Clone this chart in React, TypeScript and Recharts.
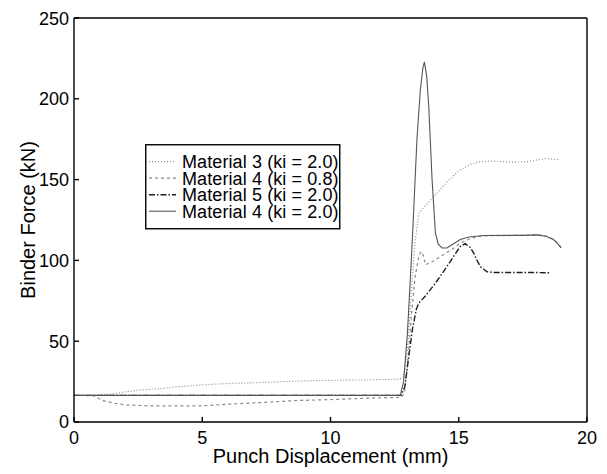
import React from 'react';
import { LineChart, Line, XAxis, YAxis, Legend } from 'recharts';

const xTicks = [0, 5, 10, 15, 20];
const yTicks = [0, 50, 100, 150, 200, 250];

const seriesNames = [
  'Material 3 (ki = 2.0)',
  'Material 4 (ki = 0.8)',
  'Material 5 (ki = 2.0)',
  'Material 4 (ki = 2.0)',
];

const mat3k20 = [
  [0, 16.5], [0.8, 16.5], [1.5, 17.3], [2.05, 18.8], [2.6, 19.8], [3.35, 20.6], [4, 21.8], [5, 23],
  [6, 23.8], [7.25, 24.4], [8, 24.9], [9, 25.4], [10, 25.8], [11.1, 26], [12.7, 26.5], [12.85, 28],
  [13.0, 45], [13.15, 80], [13.3, 112], [13.45, 129.5], [13.8, 135.5], [14.2, 142.5], [14.6, 149.5],
  [15.0, 155.5], [15.45, 159.4], [15.8, 161], [16.36, 161.5], [17, 160.8], [17.66, 161], [18, 162],
  [18.4, 163], [18.95, 162.3],
];

const mat4k08 = [
  [0, 16.5], [0.75, 16.3], [1.13, 13.2], [1.6, 11.5], [2.05, 10.5], [3, 10], [4, 10], [5, 10],
  [5.98, 11], [7.25, 12], [8.55, 13.2], [10.25, 14], [11.95, 15], [12.75, 15.2], [12.88, 18],
  [13.0, 35], [13.15, 65], [13.3, 90], [13.45, 103], [13.53, 105.5], [13.62, 103], [13.7, 97.3],
  [14.0, 99.5], [14.4, 103.5], [14.8, 107.5], [15.06, 110.7], [15.45, 113.5], [15.9, 115.2],
  [16.5, 115.3], [17.5, 115.5], [18.1, 115.8], [18.4, 115], [18.7, 113], [18.9, 110], [19, 107.7],
];

const mat5k20 = [
  [0, 16.5], [12.75, 16.5], [12.9, 22], [13.05, 40.5], [13.2, 58], [13.35, 70], [13.44, 73.5],
  [13.7, 78], [14.09, 85.9], [14.54, 96.2], [14.8, 102.5], [15.06, 108.6], [15.25, 110.4],
  [15.45, 108], [15.6, 104], [15.7, 100.4], [15.85, 96], [16.1, 93], [16.4, 92.5], [17, 92.5],
  [18, 92.5], [18.56, 92.3],
];

const mat4k20 = [
  [0, 16.5], [12.72, 16.5], [12.85, 25], [13.0, 55], [13.15, 100], [13.24, 129.5], [13.37, 175],
  [13.5, 205], [13.6, 219], [13.66, 222.9], [13.75, 214], [13.83, 195.6], [13.96, 150],
  [14.09, 117], [14.2, 110], [14.35, 107.7], [14.54, 107.7], [14.75, 109.8], [15.06, 112.9],
  [15.4, 114.5], [15.97, 115.4], [16.8, 115.5], [17.5, 115.5], [18.04, 115.8], [18.4, 115],
  [18.69, 112.9], [18.85, 110.5], [18.99, 107.7],
];

const toRows = (arr: number[][]) => arr.map(([x, y]) => ({ x, y }));

const lineStyles = [
  { stroke: '#8c8c8c', dash: '1 2', width: 1.2 },
  { stroke: '#8a8a8a', dash: '3 3', width: 1.2 },
  { stroke: '#1e1e1e', dash: '6 2 1.5 2', width: 1.4 },
  { stroke: '#555555', dash: undefined, width: 1.1 },
];

const seriesData = [mat3k20, mat4k08, mat5k20, mat4k20].map(toRows);

const FONT = '"Liberation Sans", Arial, Helvetica, sans-serif';

const renderLegend = () => (
  <svg width={196} height={86} style={{ display: 'block' }}>
    <rect x={0.75} y={0.75} width={194} height={84} fill="#fff" stroke="#000" strokeWidth={1.4} />
    {seriesNames.map((name, i) => {
      const cy = 17.7 + i * 16.5;
      const s = lineStyles[i];
      return (
        <g key={name}>
          <line x1={4} x2={31} y1={cy} y2={cy} stroke={s.stroke} strokeWidth={s.width} strokeDasharray={s.dash} />
          <text x={37} y={cy + 6.3} fontSize={18} letterSpacing={0.1} fontFamily={FONT} fill="#000">{name}</text>
        </g>
      );
    })}
  </svg>
);

export default function App() {
  return (
    <div style={{ fontFamily: FONT }}>
      <LineChart width={595} height={462} margin={{ top: 9, right: 15, bottom: 0, left: 6 }}>
        <XAxis
          dataKey="x"
          type="number"
          domain={[0, 20]}
          ticks={xTicks}
          allowDataOverflow
          height={48}
          tickSize={-5}
          tickMargin={14}
          stroke="#000"
          strokeWidth={1.4}
          tick={{ fill: '#000', fontSize: 18, fontFamily: FONT }}
          label={{ value: 'Punch Displacement (mm)', position: 'insideBottom', offset: 7, fontSize: 20, fill: '#000', fontFamily: FONT }}
        />
        <XAxis
          xAxisId="top"
          orientation="top"
          type="number"
          domain={[0, 20]}
          ticks={xTicks}
          allowDataOverflow
          height={1}
          tickSize={-5}
          stroke="#000"
          strokeWidth={1.4}
          tick={false}
        />
        <YAxis
          type="number"
          domain={[0, 250]}
          ticks={yTicks}
          allowDataOverflow
          width={60}
          tickSize={-5}
          tickMargin={10}
          stroke="#000"
          strokeWidth={1.4}
          tick={{ fill: '#000', fontSize: 18, fontFamily: FONT }}
          label={{ value: 'Binder Force (kN)', angle: -90, position: 'center', dx: -16, fontSize: 20, fill: '#000', fontFamily: FONT }}
        />
        <YAxis
          yAxisId="right"
          orientation="right"
          type="number"
          domain={[0, 250]}
          ticks={yTicks}
          allowDataOverflow
          width={1}
          tickSize={-5}
          stroke="#000"
          strokeWidth={1.4}
          tick={false}
        />
        {seriesData.map((d, i) => (
          <Line
            key={seriesNames[i]}
            data={d}
            dataKey="y"
            name={seriesNames[i]}
            type="linear"
            stroke={lineStyles[i].stroke}
            strokeWidth={lineStyles[i].width}
            strokeDasharray={lineStyles[i].dash}
            dot={false}
            activeDot={false}
            isAnimationActive={false}
          />
        ))}
        <Legend
          layout="vertical"
          align="center"
          verticalAlign="middle"
          content={renderLegend}
          wrapperStyle={{ left: 137, top: 136, width: 196, height: 86 }}
        />
      </LineChart>
    </div>
  );
}
